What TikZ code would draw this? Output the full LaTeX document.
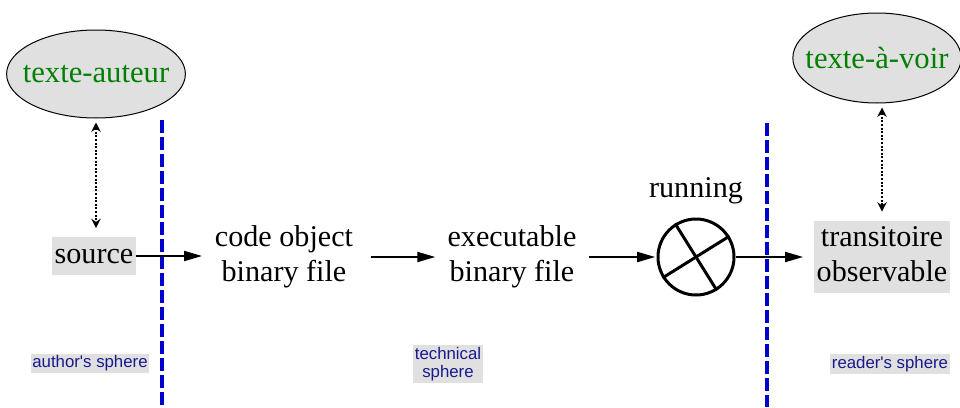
\documentclass[tikz,border=0pt]{standalone}
\usepackage{fontspec}
\setmainfont{Liberation Serif}
\newfontfamily\labfont{Liberation Sans}
\usetikzlibrary{arrows.meta,shapes.geometric}
\definecolor{boxgray}{RGB}{224,224,224}
\definecolor{txtgreen}{RGB}{0,128,0}
\definecolor{navytxt}{RGB}{25,25,140}
\definecolor{sepblue}{RGB}{0,0,204}
\begin{document}
\begin{tikzpicture}[x=0.75pt,y=-0.75pt,
  big/.style={font=\fontsize{22.6}{26.25}\selectfont, align=center, inner sep=2pt},
  grbox/.style={big, fill=boxgray, inner xsep=2pt, inner ysep=0.8pt},
  ell/.style={ellipse, draw, line width=0.75pt, fill=boxgray, text=txtgreen,
    font=\fontsize{23}{26}\selectfont, inner ysep=0pt},
  sph/.style={font=\labfont\fontsize{12.6}{14}\selectfont, text=navytxt, fill=boxgray,
    align=center, inner sep=1.3pt},
  flow/.style={line width=1.5pt, -{Triangle[length=13.5pt,width=7.5pt]}},
  link/.style={line width=1.5pt, dash pattern=on 1.5pt off 1.2pt,
    {Stealth[length=7pt,width=7pt]}-{Stealth[length=7pt,width=7pt]}},
  sep/.style={sepblue, line width=2.5pt, dash pattern=on 9.75pt off 3pt}]
\useasboundingbox (0,0) rectangle (960,407);

% ellipses
\node[ell, inner xsep=-7.5pt, minimum width=131pt, minimum height=66pt] (ea) at (96,74) {texte-auteur};
\node[ell, inner xsep=-9pt, minimum width=124.5pt, minimum height=67.5pt] (ev) at (877,58) {texte-à-voir};

% main chain
\node[grbox] (src) at (94,256) {\strut source};
\node[big] (code) at (284,257) {code object\\binary file};
\node[big] (exe) at (512,257) {executable\\binary file};
\node[circle, draw, line width=2.25pt, minimum size=57pt, inner sep=0pt] (run) at (696,257) {};
\node[big, anchor=base] (runlab) at (696,197) {running};
\node[grbox] (obs) at (882,257) {\strut transitoire\\\strut observable};

% sphere labels
\node[sph] (as) at (90,363.5) {author\textquotesingle s sphere};
\node[sph] (ts) at (448,364) {technical\\sphere};
\node[sph] (rs) at (890,364) {reader\textquotesingle s sphere};

% separators
\coordinate (s1t) at (162,120);
\coordinate (s1b) at (162,407);
\coordinate (s2t) at (767,123);
\coordinate (s2b) at (767,407);
\draw[sep] (s1t) -- (s1b);
\draw[sep] (s2t) -- (s2b);

% cross in circle
\draw[line width=2.25pt] (run.122) -- (run.302);
\draw[line width=2.25pt] (run.32) -- (run.212);

% flow arrows
\draw[flow, shorten >=7.5pt] (src.east) -- (src.east -| code.west);
\draw[flow, shorten <=11pt, shorten >=7pt] (code.east) -- (exe.west);
\draw[flow, shorten <=7.5pt, shorten >=1pt] (exe.east) -- (run.west);
\draw[flow, shorten >=8pt] (run.east) -- (obs.west);

% dotted links
\draw[link, shorten <=3pt, shorten >=6.75pt] (ea.south) -- (ea.south |- src.north);
\draw[link, shorten <=3pt, shorten >=6.75pt] (obs.north |- ev.south) -- (obs.north);
\end{tikzpicture}
\end{document}
